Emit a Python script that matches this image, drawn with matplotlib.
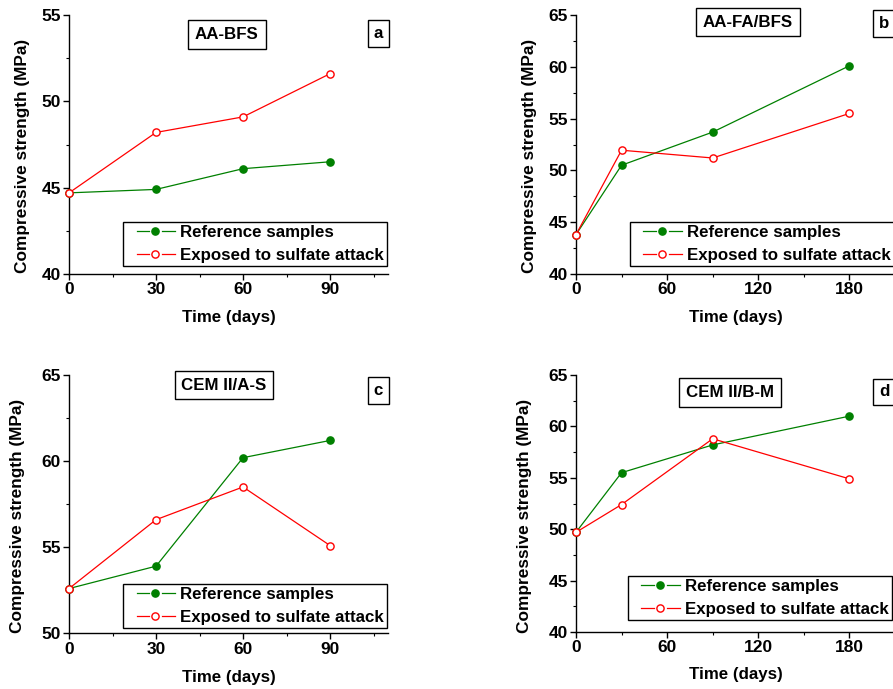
import matplotlib
matplotlib.use("Agg")
import matplotlib.pyplot as plt
from matplotlib.lines import Line2D
from matplotlib.legend_handler import HandlerBase
from matplotlib.ticker import MultipleLocator

plt.rcParams['font.family'] = ['Liberation Sans', 'DejaVu Sans']
plt.rcParams['font.weight'] = 'bold'

# data
days_90 = [0, 30, 60, 90]
days_180 = [0, 30, 90, 180]

aa_bfs_ref = [44.7, 44.9, 46.1, 46.5]
aa_bfs_sulf = [44.7, 48.2, 49.1, 51.6]

aa_fabfs_ref = [43.8, 50.5, 53.7, 60.1]
aa_fabfs_sulf = [43.8, 51.95, 51.2, 55.5]

cem_as_ref = [52.6, 53.9, 60.2, 61.2]
cem_as_sulf = [52.6, 56.6, 58.5, 55.1]

cem_bm_ref = [49.7, 55.5, 58.2, 61.0]
cem_bm_sulf = [49.7, 52.4, 58.8, 54.9]

GREEN = '#008000'
RED = '#ff0000'
FS = 12.2


class OriginHandler(HandlerBase):
    # legend key drawn as: segment, marker in a gap, segment
    def create_artists(self, legend, orig, xdescent, ydescent, width, height, fontsize, trans):
        y = height / 2 - ydescent
        x0 = -xdescent
        c = orig.get_color()
        lw = orig.get_linewidth()
        s1 = Line2D([x0 + 0.21 * width, x0 + 0.47 * width], [y, y], color=c, lw=lw)
        s2 = Line2D([x0 + 0.73 * width, x0 + 1.0 * width], [y, y], color=c, lw=lw)
        mk = Line2D([x0 + 0.59 * width], [y], ls='none', marker='o', ms=orig.get_markersize(),
                    mfc=orig.get_markerfacecolor(), mec=orig.get_markeredgecolor(), mew=1.0)
        for a in (s1, s2, mk):
            a.set_transform(trans)
        return [s1, s2, mk]


fig = plt.figure(figsize=(8.93, 6.89), dpi=100)

panels = [
    # position, x, ref, sulf, xlim, xmajor, ylim, title, title pos, letter pos, legend anchor, ylabel coords, xlabel y
    ([0.0773, 0.6023, 0.3572, 0.3759], days_90, aa_bfs_ref, aa_bfs_sulf, (0, 110), 30, (40, 55),
     'AA-BFS', (0.495, 0.925), 'a', (0.97, 0.93), (0.169, 0.031), (-0.121, 0.454), -0.139),
    ([0.6450, 0.6023, 0.3572, 0.3759], days_180, aa_fabfs_ref, aa_fabfs_sulf, (0, 210), 60, (40, 65),
     'AA-FA/BFS', (0.539, 0.973), 'b', (0.967, 0.967), (0.169, 0.031), (-0.121, 0.454), -0.139),
    ([0.0773, 0.0808, 0.3572, 0.3749], days_90, cem_as_ref, cem_as_sulf, (0, 110), 30, (50, 65),
     'CEM II/A-S', (0.486, 0.961), 'c', (0.97, 0.94), (0.169, 0.02), (-0.137, 0.455), -0.142),
    ([0.6450, 0.0827, 0.3572, 0.3730], days_180, cem_bm_ref, cem_bm_sulf, (0, 210), 60, (40, 65),
     'CEM II/B-M', (0.483, 0.932), 'd', (0.967, 0.934), (0.162, 0.047), (-0.137, 0.451), -0.135),
]

for pos, x, ref, sulf, xlim, xmaj, ylim, title, tpos, letter, lpos, lanchor, ylc, xly in panels:
    ax = fig.add_axes(pos)
    l_ref, = ax.plot(x, ref, color=GREEN, lw=0.9, marker='o', ms=5.2, mfc=GREEN, mec=GREEN,
                     clip_on=False, zorder=3)
    l_sulf, = ax.plot(x, sulf, color=RED, lw=0.9, marker='o', ms=5.2, mfc='white', mec=RED,
                      mew=1.0, clip_on=False, zorder=3)

    ax.set_ylim(*ylim)
    ax.xaxis.set_major_locator(MultipleLocator(xmaj))
    ax.xaxis.set_minor_locator(MultipleLocator(xmaj / 2))
    ax.yaxis.set_major_locator(MultipleLocator(5))
    ax.yaxis.set_minor_locator(MultipleLocator(2.5))
    ax.set_xlim(*xlim)
    ax.set_xticks([t for t in ax.get_xticks() if t <= x[-1]])
    ax.set_xlim(*xlim)

    for s in ['top', 'right']:
        ax.spines[s].set_visible(False)
    for s in ['left', 'bottom']:
        ax.spines[s].set_linewidth(1.0)
    ax.tick_params(which='major', direction='out', length=4, width=1.0, labelsize=12.5, pad=2)
    ax.tick_params(which='minor', direction='out', length=2.5, width=0.8)
    for lab in ax.get_xticklabels() + ax.get_yticklabels():
        lab.set_fontweight('bold')

    ax.set_xlabel('Time (days)', fontsize=FS, fontweight='bold')
    ax.set_ylabel('Compressive strength (MPa)', fontsize=FS + 0.2, fontweight='bold')
    ax.xaxis.set_label_coords(0.5, xly)
    ax.yaxis.set_label_coords(*ylc)

    ax.text(tpos[0], tpos[1], title, transform=ax.transAxes, ha='center', va='center',
            fontsize=FS, fontweight='bold',
            bbox=dict(boxstyle='square,pad=0.4', fc='white', ec='black', lw=1.0))
    ax.text(lpos[0], lpos[1], letter, transform=ax.transAxes, ha='center', va='center',
            fontsize=FS, fontweight='bold',
            bbox=dict(boxstyle='square,pad=0.35', fc='white', ec='black', lw=1.0))

    leg = ax.legend([l_ref, l_sulf], ['Reference samples', 'Exposed to sulfate attack'],
                    handler_map={Line2D: OriginHandler()},
                    loc='lower left', bbox_to_anchor=lanchor, borderaxespad=0,
                    prop={'weight': 'bold', 'size': FS}, fancybox=False,
                    edgecolor='black', framealpha=1, handlelength=2.87, handletextpad=0.3,
                    labelspacing=0.45, borderpad=0.2)
    leg.get_frame().set_linewidth(1.0)

fig.savefig('out.png', dpi=100)
